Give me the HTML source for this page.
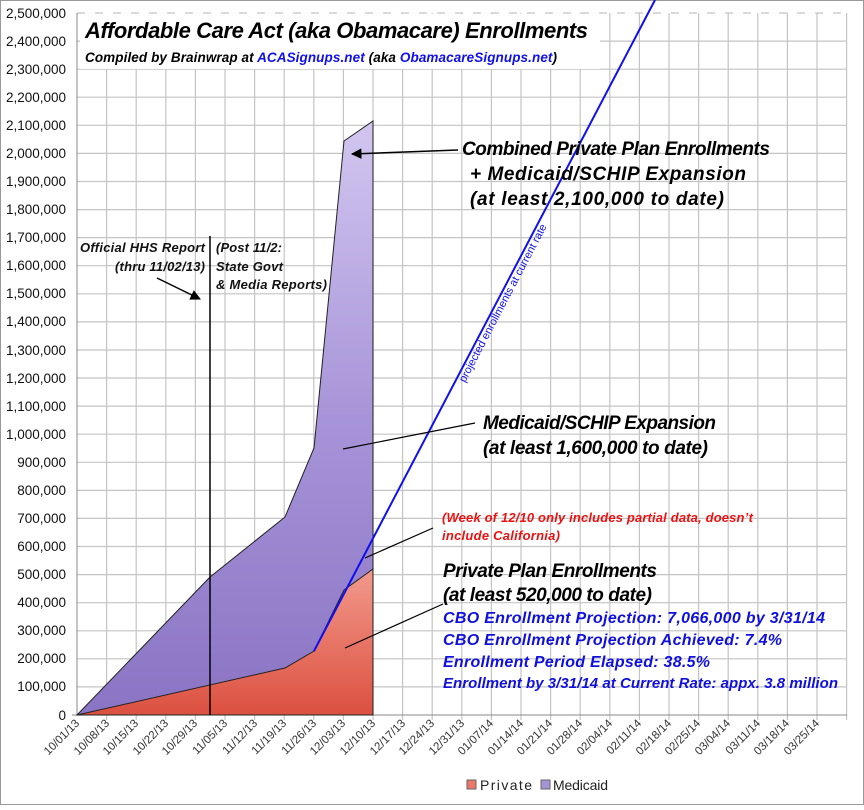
<!DOCTYPE html>
<html><head><meta charset="utf-8"><style>
body{margin:0;background:#fff;}
svg text{font-family:"Liberation Sans",Arial,sans-serif;}
</style></head><body>
<svg width="864" height="805" viewBox="0 0 864 805" xmlns="http://www.w3.org/2000/svg">
<defs>
<linearGradient id="med" x1="0" y1="0" x2="0" y2="1">
<stop offset="0" stop-color="#d2c6f0"/><stop offset="0.5" stop-color="#a794d8"/><stop offset="1" stop-color="#8a74c4"/>
</linearGradient>
<linearGradient id="pri" x1="0" y1="0" x2="0" y2="1">
<stop offset="0" stop-color="#f29a8c"/><stop offset="1" stop-color="#dc5040"/>
</linearGradient>
<marker id="ar" viewBox="0 0 10 10" refX="9" refY="5" markerWidth="7" markerHeight="7" orient="auto"><path d="M0,0L10,5L0,10z" fill="#000"/></marker>
</defs>
<rect x="0.5" y="0.5" width="863" height="804" fill="#fff" stroke="#999"/>
<g stroke="#c4c4c4" stroke-width="1.2">
<line x1="77" y1="13" x2="847" y2="13" stroke-dasharray="8,10"/>
<line x1="77" y1="41.1" x2="847" y2="41.1"/><line x1="77" y1="69.2" x2="847" y2="69.2"/><line x1="77" y1="97.2" x2="847" y2="97.2"/><line x1="77" y1="125.3" x2="847" y2="125.3"/><line x1="77" y1="153.4" x2="847" y2="153.4"/><line x1="77" y1="181.5" x2="847" y2="181.5"/><line x1="77" y1="209.6" x2="847" y2="209.6"/><line x1="77" y1="237.6" x2="847" y2="237.6"/><line x1="77" y1="265.7" x2="847" y2="265.7"/><line x1="77" y1="293.8" x2="847" y2="293.8"/><line x1="77" y1="321.9" x2="847" y2="321.9"/><line x1="77" y1="350" x2="847" y2="350"/><line x1="77" y1="378" x2="847" y2="378"/><line x1="77" y1="406.1" x2="847" y2="406.1"/><line x1="77" y1="434.2" x2="847" y2="434.2"/><line x1="77" y1="462.3" x2="847" y2="462.3"/><line x1="77" y1="490.4" x2="847" y2="490.4"/><line x1="77" y1="518.4" x2="847" y2="518.4"/><line x1="77" y1="546.5" x2="847" y2="546.5"/><line x1="77" y1="574.6" x2="847" y2="574.6"/><line x1="77" y1="602.7" x2="847" y2="602.7"/><line x1="77" y1="630.8" x2="847" y2="630.8"/><line x1="77" y1="658.8" x2="847" y2="658.8"/><line x1="77" y1="686.9" x2="847" y2="686.9"/>
<line x1="106.6" y1="65" x2="106.6" y2="720"/><line x1="136.2" y1="65" x2="136.2" y2="720"/><line x1="165.8" y1="65" x2="165.8" y2="720"/><line x1="195.4" y1="65" x2="195.4" y2="720"/><line x1="225" y1="65" x2="225" y2="720"/><line x1="254.6" y1="65" x2="254.6" y2="720"/><line x1="284.2" y1="65" x2="284.2" y2="720"/><line x1="313.8" y1="65" x2="313.8" y2="720"/><line x1="343.4" y1="65" x2="343.4" y2="720"/><line x1="373" y1="65" x2="373" y2="720"/><line x1="402.6" y1="13" x2="402.6" y2="720"/><line x1="432.2" y1="13" x2="432.2" y2="720"/><line x1="461.8" y1="13" x2="461.8" y2="720"/><line x1="491.4" y1="13" x2="491.4" y2="720"/><line x1="521" y1="13" x2="521" y2="720"/><line x1="550.6" y1="13" x2="550.6" y2="720"/><line x1="580.2" y1="13" x2="580.2" y2="720"/><line x1="609.8" y1="13" x2="609.8" y2="720"/><line x1="639.4" y1="13" x2="639.4" y2="720"/><line x1="669" y1="13" x2="669" y2="720"/><line x1="698.6" y1="13" x2="698.6" y2="720"/><line x1="728.2" y1="13" x2="728.2" y2="720"/><line x1="757.8" y1="13" x2="757.8" y2="720"/><line x1="787.4" y1="13" x2="787.4" y2="720"/><line x1="817" y1="13" x2="817" y2="720"/><line x1="846.6" y1="13" x2="846.6" y2="720"/>
</g>
<line x1="77" y1="13" x2="77" y2="715" stroke="#888"/>
<line x1="72" y1="715" x2="847" y2="715" stroke="#888"/>
<g font-size="13.5" fill="#111" text-anchor="end">
<text x="66" y="18">2,500,000</text><text x="66" y="46">2,400,000</text><text x="66" y="74">2,300,000</text><text x="66" y="102">2,200,000</text><text x="66" y="130">2,100,000</text><text x="66" y="158">2,000,000</text><text x="66" y="186">1,900,000</text><text x="66" y="214">1,800,000</text><text x="66" y="242">1,700,000</text><text x="66" y="270">1,600,000</text><text x="66" y="298">1,500,000</text><text x="66" y="326">1,400,000</text><text x="66" y="355">1,300,000</text><text x="66" y="383">1,200,000</text><text x="66" y="411">1,100,000</text><text x="66" y="439">1,000,000</text><text x="66" y="467">900,000</text><text x="66" y="495">800,000</text><text x="66" y="523">700,000</text><text x="66" y="551">600,000</text><text x="66" y="579">500,000</text><text x="66" y="607">400,000</text><text x="66" y="635">300,000</text><text x="66" y="663">200,000</text><text x="66" y="691">100,000</text><text x="66" y="720">0</text>
</g>
<polygon points="77,715 210,577 285,517 314,448 344,141 373,121 373,715" fill="url(#med)" stroke="#222" stroke-width="1"/>
<polygon points="77,715 285,668 314,651 344,590 373,569 373,715" fill="url(#pri)" stroke="#222" stroke-width="1"/>
<line x1="314" y1="651" x2="655" y2="0" stroke="#1010ee" stroke-width="2"/>
<line x1="210" y1="236" x2="210" y2="715" stroke="#000" stroke-width="1.5"/>
<g font-size="11.5" fill="#333" transform="translate(0,778)">
<text transform="translate(80,-54) rotate(-45)" text-anchor="end">10/01/13</text>
<text transform="translate(110,-54) rotate(-45)" text-anchor="end">10/08/13</text>
<text transform="translate(139,-54) rotate(-45)" text-anchor="end">10/15/13</text>
<text transform="translate(169,-54) rotate(-45)" text-anchor="end">10/22/13</text>
<text transform="translate(198,-54) rotate(-45)" text-anchor="end">10/29/13</text>
<text transform="translate(228,-54) rotate(-45)" text-anchor="end">11/05/13</text>
<text transform="translate(258,-54) rotate(-45)" text-anchor="end">11/12/13</text>
<text transform="translate(287,-54) rotate(-45)" text-anchor="end">11/19/13</text>
<text transform="translate(317,-54) rotate(-45)" text-anchor="end">11/26/13</text>
<text transform="translate(346,-54) rotate(-45)" text-anchor="end">12/03/13</text>
<text transform="translate(376,-54) rotate(-45)" text-anchor="end">12/10/13</text>
<text transform="translate(406,-54) rotate(-45)" text-anchor="end">12/17/13</text>
<text transform="translate(435,-54) rotate(-45)" text-anchor="end">12/24/13</text>
<text transform="translate(465,-54) rotate(-45)" text-anchor="end">12/31/13</text>
<text transform="translate(494,-54) rotate(-45)" text-anchor="end">01/07/14</text>
<text transform="translate(524,-54) rotate(-45)" text-anchor="end">01/14/14</text>
<text transform="translate(553,-54) rotate(-45)" text-anchor="end">01/21/14</text>
<text transform="translate(583,-54) rotate(-45)" text-anchor="end">01/28/14</text>
<text transform="translate(613,-54) rotate(-45)" text-anchor="end">02/04/14</text>
<text transform="translate(642,-54) rotate(-45)" text-anchor="end">02/11/14</text>
<text transform="translate(672,-54) rotate(-45)" text-anchor="end">02/18/14</text>
<text transform="translate(701,-54) rotate(-45)" text-anchor="end">02/25/14</text>
<text transform="translate(731,-54) rotate(-45)" text-anchor="end">03/04/14</text>
<text transform="translate(761,-54) rotate(-45)" text-anchor="end">03/11/14</text>
<text transform="translate(790,-54) rotate(-45)" text-anchor="end">03/18/14</text>
<text transform="translate(820,-54) rotate(-45)" text-anchor="end">03/25/14</text>
</g>
<rect x="467" y="780" width="9" height="9" fill="#ec7868" stroke="#666"/>
<text x="480" y="790" font-size="14" fill="#222" textLength="52">Private</text>
<rect x="541" y="780" width="9" height="9" fill="#a794d8" stroke="#666"/>
<text x="553" y="790" font-size="14" fill="#222" textLength="55">Medicaid</text>
<rect x="80" y="14" width="520" height="55" fill="#fff"/>
<text x="85" y="38" font-size="22" font-weight="bold" font-style="italic" fill="#000" textLength="503">Affordable Care Act (aka Obamacare) Enrollments</text>
<text x="85" y="62" font-size="13.5" font-weight="bold" font-style="italic" fill="#000" textLength="472">Compiled by Brainwrap at <tspan fill="#1010ee">ACASignups.net</tspan>  (aka <tspan fill="#1010ee">ObamacareSignups.net</tspan>)</text>
<g font-size="13" font-weight="bold" font-style="italic" fill="#111">
<text x="205" y="252" text-anchor="end" textLength="125">Official HHS Report</text>
<text x="205" y="271" text-anchor="end" textLength="90">(thru 11/02/13)</text>
<text x="216" y="252" textLength="66">(Post 11/2:</text>
<text x="216" y="271" textLength="67">State Govt</text>
<text x="216" y="289" textLength="111">&amp; Media Reports)</text>
</g>
<line x1="157" y1="278" x2="200" y2="299" stroke="#000" stroke-width="1.5" marker-end="url(#ar)"/>
<g font-size="19" font-weight="bold" font-style="italic" fill="#000">
<text x="462" y="155" textLength="308">Combined Private Plan Enrollments</text>
<text x="470" y="180" textLength="276">+ Medicaid/SCHIP Expansion</text>
<text x="470" y="205" textLength="254">(at least 2,100,000 to date)</text>
<text x="483" y="429" textLength="233">Medicaid/SCHIP Expansion</text>
<text x="483" y="454" textLength="225">(at least 1,600,000 to date)</text>
<text x="443" y="577" textLength="214">Private Plan Enrollments</text>
<text x="443" y="601" textLength="209">(at least 520,000 to date)</text>
</g>
<line x1="458" y1="150" x2="352" y2="154" stroke="#000" stroke-width="1.5" marker-end="url(#ar)"/>
<line x1="475" y1="423" x2="343" y2="449" stroke="#000" stroke-width="1.2"/>
<line x1="433" y1="528" x2="365" y2="558" stroke="#000" stroke-width="1.2"/>
<line x1="443" y1="604" x2="345" y2="648" stroke="#000" stroke-width="1.2"/>
<g font-size="13" font-weight="bold" font-style="italic" fill="#ee1111">
<text x="442" y="522" textLength="311">(Week of 12/10 only includes partial data, doesn’t</text>
<text x="442" y="540" textLength="118">include California)</text>
</g>
<g font-size="16" font-weight="bold" font-style="italic" fill="#1010dd">
<text x="443" y="623" textLength="382">CBO Enrollment Projection: 7,066,000 by 3/31/14</text>
<text x="443" y="645" textLength="339">CBO Enrollment Projection Achieved: 7.4%</text>
<text x="443" y="667" textLength="267">Enrollment Period Elapsed: 38.5%</text>
<text x="443" y="688" font-size="15" textLength="395">Enrollment by 3/31/14 at Current Rate: appx. 3.8 million</text>
</g>
<text transform="translate(465,383) rotate(-62.4)" font-size="11" fill="#1010ee">projected enrollments at current rate</text>
</svg>
</body></html>
